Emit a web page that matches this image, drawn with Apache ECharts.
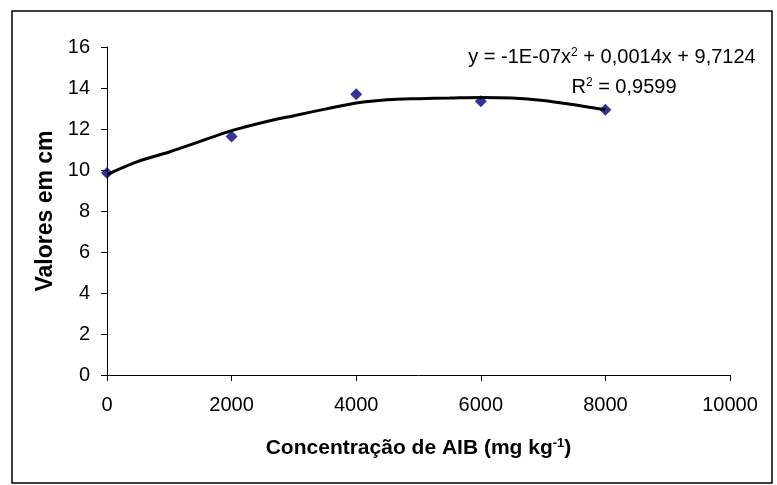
<!DOCTYPE html>
<html>
<head>
<meta charset="utf-8">
<script src="https://cdn.jsdelivr.net/npm/echarts@6/dist/echarts.min.js"></script>
<style>
  html, body { margin: 0; padding: 0; background: #fff; }
  #chart { width: 777px; height: 485px; }
</style>
</head>
<body>
<div id="chart"></div>
<script>
// pontos medidos
var doses = [0, 2000, 4000, 6000, 8000]
var alturas = [9.85, 11.64, 13.7, 13.35, 12.94]
// linha de tendência
var tendX = [0, 500, 1000, 1500, 2000, 2500, 3000, 3500, 4000, 4500, 5000, 5500, 6000, 6500, 7000, 7500, 8000]
var tendY = [9.78, 10.42, 10.88, 11.4, 11.92, 12.32, 12.65, 12.97, 13.27, 13.43, 13.48, 13.51, 13.54, 13.51, 13.39, 13.18, 12.94]
var xTicks = [0, 2000, 4000, 6000, 8000, 10000]
var yTicks = [0, 2, 4, 6, 8, 10, 12, 14, 16]

var font = '"Liberation Sans", Arial, sans-serif'
var chart = echarts.init(document.getElementById('chart'))

var option = {
  backgroundColor: '#ffffff',
  animation: false,
  grid: { left: 107, right: 47, top: 47, bottom: 110 },
  xAxis: {
    type: 'value',
    min: xTicks[0],
    max: xTicks[xTicks.length - 1],
    interval: 2000,
    name: '{t|Concentração de AIB (mg kg}{s|-1}{t|)}',
    nameLocation: 'middle',
    nameGap: 62,
    nameTextStyle: {
      rich: {
        t: { fontFamily: font, fontSize: 21, fontWeight: 'bold', color: '#000' },
        s: { fontFamily: font, fontSize: 13, fontWeight: 'bold', color: '#000', verticalAlign: 'top', padding: [0, 0, 10, 0] }
      }
    },
    axisLine: { lineStyle: { color: '#000', width: 1 } },
    axisTick: { show: true, inside: false, length: 6, lineStyle: { color: '#000' } },
    axisLabel: {
      fontFamily: font, fontSize: 20, color: '#000', margin: 20,
      formatter: function (v) { return String(v) }
    },
    splitLine: { show: false }
  },
  yAxis: {
    type: 'value',
    min: yTicks[0],
    max: yTicks[yTicks.length - 1],
    interval: 2,
    name: 'Valores em cm',
    nameLocation: 'middle',
    nameGap: 50,
    nameTextStyle: { fontFamily: font, fontSize: 23, fontWeight: 'bold', color: '#000' },
    axisLine: { show: true, lineStyle: { color: '#000', width: 1 } },
    axisTick: { show: true, inside: false, length: 6, lineStyle: { color: '#000' } },
    axisLabel: { fontFamily: font, fontSize: 20, color: '#000', margin: 17 },
    splitLine: { show: false }
  },
  series: [
    {
      name: 'Valores',
      type: 'scatter',
      symbol: 'diamond',
      symbolSize: 12,
      itemStyle: { color: '#000080' },
      data: doses.map(function (d, i) { return [d, alturas[i]] }),
      z: 2
    },
    {
      name: 'Tendência',
      type: 'line',
      showSymbol: false,
      smooth: 0.3,
      lineStyle: { color: '#000', width: 3 },
      data: tendX.map(function (d, i) { return [d, tendY[i]] }),
      z: 3
    }
  ],
  graphic: [
    {
      type: 'rect',
      shape: { x: 12, y: 11, width: 760, height: 472 },
      style: { fill: 'none', stroke: '#000', lineWidth: 1.5 },
      silent: true
    },
    {
      type: 'text',
      x: 612, y: 57,
      style: {
        text: '{t|y = -1E-07x}{s|2}{t| + 0,0014x + 9,7124}',
        align: 'center', verticalAlign: 'middle',
        rich: {
          t: { fontFamily: font, fontSize: 20, fill: '#000' },
          s: { fontFamily: font, fontSize: 12, fill: '#000', verticalAlign: 'top', padding: [0, 0, 8, 0] }
        }
      }
    },
    {
      type: 'text',
      x: 624, y: 87,
      style: {
        text: '{t|R}{s|2}{t| = 0,9599}',
        align: 'center', verticalAlign: 'middle',
        rich: {
          t: { fontFamily: font, fontSize: 20, fill: '#000' },
          s: { fontFamily: font, fontSize: 12, fill: '#000', verticalAlign: 'top', padding: [0, 0, 8, 0] }
        }
      }
    }
  ]
}
chart.setOption(option)
window.onresize = chart.resize
</script>
</body>
</html>
